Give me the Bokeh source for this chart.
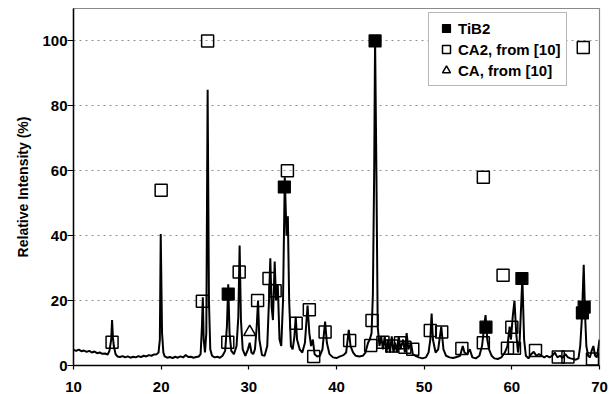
from bokeh.plotting import figure
from bokeh.models import FixedTicker, Range1d, Legend, LegendItem
from bokeh.embed import file_html
from bokeh.resources import INLINE

# XRD pattern (2-theta, relative intensity %)
pattern_x = [10.0, 10.3, 10.6, 10.9, 11.2, 11.5, 11.8, 12.1, 12.4, 12.7, 13.0, 13.3, 13.6, 13.9,
             14.1, 14.3, 14.4, 14.5, 14.6, 14.8, 15.0, 15.3, 15.6, 15.9, 16.2, 16.5, 16.8, 17.1,
             17.4, 17.7, 18.0, 18.3, 18.6, 18.9, 19.2, 19.5, 19.7, 19.85, 19.95, 20.1, 20.25, 20.4,
             20.7, 21.0, 21.3, 21.6, 21.9, 22.2, 22.5, 22.8, 23.1, 23.4, 23.7, 24.0, 24.3, 24.5,
             24.65, 24.75, 24.85, 25.0, 25.15, 25.3, 25.45, 25.6, 25.8, 26.1, 26.4, 26.7, 27.0, 27.3,
             27.5, 27.65, 27.8, 28.0, 28.3, 28.6, 28.8, 28.95, 29.1, 29.3, 29.6, 29.9, 30.1, 30.3,
             30.5, 30.7, 30.9, 31.05, 31.2, 31.5, 31.8, 32.1, 32.3, 32.45, 32.6, 32.75, 32.95, 33.1,
             33.3, 33.5, 33.7, 33.9, 34.1, 34.3, 34.45, 34.6, 34.8, 35.0, 35.2, 35.35, 35.5, 35.8,
             36.1, 36.4, 36.7, 36.9, 37.1, 37.3, 37.5, 37.8, 38.1, 38.4, 38.7, 38.9, 39.2, 39.6,
             40.0, 40.4, 40.8, 41.1, 41.4, 41.6, 41.9, 42.2, 42.6, 43.0, 43.3, 43.6, 43.8, 44.0,
             44.15, 44.3, 44.4, 44.55, 44.7, 44.9, 45.1, 45.3, 45.5, 45.7, 45.9, 46.1, 46.3, 46.5,
             46.7, 46.9, 47.1, 47.3, 47.6, 47.8, 48.0, 48.2, 48.5, 48.7, 49.0, 49.4, 49.8, 50.2,
             50.5, 50.7, 50.85, 51.0, 51.3, 51.6, 51.95, 52.2, 52.5, 52.9, 53.3, 53.7, 54.1, 54.4,
             54.6, 54.9, 55.2, 55.5, 55.9, 56.3, 56.6, 56.85, 57.0, 57.2, 57.4, 57.7, 58.0, 58.4,
             58.8, 59.2, 59.5, 59.75, 59.9, 60.1, 60.3, 60.5, 60.7, 60.9, 61.2, 61.4, 61.6, 61.9,
             62.2, 62.5, 62.8, 63.1, 63.4, 63.7, 64.0, 64.3, 64.6, 64.9, 65.2, 65.5, 65.8, 66.1,
             66.4, 66.7, 67.0, 67.3, 67.6, 67.8, 68.0, 68.2, 68.35, 68.5, 68.7, 68.9, 69.1, 69.3,
             69.5, 69.7, 69.85, 70.0]
pattern_y = [4.8, 4.5, 4.9, 4.4, 4.6, 4.2, 4.5, 4.0, 4.3, 3.8, 4.0, 3.6, 3.7, 3.4,
             4.5, 8.0, 14.0, 8.5, 6.0, 3.5, 2.8, 2.6, 2.9, 2.5, 2.8, 2.4, 2.7, 2.5,
             2.9, 2.6, 3.0, 2.8, 3.2, 3.0, 3.4, 3.5, 4.0, 8.0, 40.5, 10.0, 4.0, 2.8,
             2.4, 2.6, 2.3, 2.7, 2.4, 2.8, 2.5, 3.2, 2.6, 2.7, 2.4, 2.6, 2.8, 3.5,
             12.0, 21.0, 8.0, 4.0, 10.0, 85.0, 20.0, 5.0, 3.0, 2.5, 2.7, 2.4, 3.0, 4.5,
             12.0, 25.0, 10.0, 4.5, 3.5, 6.0, 15.0, 37.0, 14.0, 5.0, 3.0, 5.0, 7.0, 4.0,
             3.5, 5.0, 12.0, 20.0, 8.0, 3.2, 3.0, 6.0, 20.0, 33.0, 18.0, 14.0, 32.0, 20.0,
             25.0, 8.0, 6.0, 20.0, 58.0, 40.0, 46.0, 20.0, 6.0, 5.0, 9.0, 15.0, 8.0, 5.0,
             4.0, 7.0, 18.5, 10.0, 6.0, 8.0, 3.5, 2.8, 3.0, 5.0, 13.5, 7.0, 3.5, 2.5,
             2.3, 2.8, 3.2, 4.0, 11.0, 6.0, 4.0, 3.0, 2.8, 3.0, 4.0, 7.0, 8.0, 10.0,
             22.0, 60.0, 101.0, 60.0, 12.0, 6.0, 9.0, 5.0, 9.0, 4.0, 8.0, 4.0, 9.0, 4.0,
             7.0, 4.0, 9.0, 5.0, 8.0, 4.0, 10.0, 5.0, 7.0, 3.5, 3.0, 2.5, 2.2, 2.5,
             4.0, 8.0, 16.0, 8.0, 4.0, 5.0, 12.0, 5.0, 3.0, 2.5, 2.3, 2.6, 3.0, 6.0,
             4.0, 3.5, 5.0, 2.5, 2.2, 3.0, 6.0, 12.0, 15.5, 8.0, 5.0, 3.0, 2.2, 2.0,
             2.5, 4.0, 6.0, 12.0, 8.0, 15.0, 20.0, 10.0, 4.0, 8.0, 27.0, 8.0, 3.0, 2.2,
             3.5, 4.2, 3.0, 3.5, 3.0, 2.5, 3.0, 2.5, 3.0, 4.0, 2.5, 3.0, 2.3, 3.5,
             2.5, 2.2, 2.0, 1.8, 2.2, 6.0, 15.0, 31.0, 16.0, 6.0, 3.0, 2.5, 4.5, 6.0,
             3.0, 2.5, 5.0, 8.0]

# Reference peaks
tib2_x = [27.65, 34.05, 44.4, 57.05, 61.15, 68.05, 68.25]
tib2_y = [22.0, 55.0, 100.0, 11.8, 26.8, 16.2, 18.0]

ca2_x = [14.4, 20.0, 24.7, 25.3, 27.6, 28.9, 31.0, 32.3, 33.0, 34.4, 35.4, 36.9, 37.4, 38.7,
         41.5, 43.9, 44.05, 45.3, 46.3, 47.3, 47.8, 48.7, 50.7, 52.0, 54.3, 56.75, 56.75,
         59.0, 59.5, 60.0, 60.3, 62.7, 65.3, 66.4, 68.15, 69.2]
ca2_y = [7.2, 54.0, 19.8, 100.0, 7.2, 28.8, 20.0, 26.8, 23.0, 60.0, 13.0, 17.2, 2.8, 10.3,
         7.7, 6.2, 13.9, 7.2, 6.0, 7.0, 5.6, 5.0, 10.8, 10.3, 5.2, 7.0, 58.0,
         27.8, 5.3, 11.8, 5.3, 4.6, 2.6, 2.6, 98.0, 2.0]

ca_x = [30.1]
ca_y = [10.3]

y_ticks = [0, 20, 40, 60, 80, 100]
x_ticks = [10, 20, 30, 40, 50, 60, 70]

FONT = "Liberation Sans"

p = figure(width=609, height=394, output_backend="svg", toolbar_location=None,
           x_range=Range1d(10, 70), y_range=Range1d(0, 110),
           min_border_left=73, min_border_right=10, min_border_top=8, min_border_bottom=29)
p.outline_line_color = "#8a8a8a"
p.outline_line_width = 1.2

p.line(pattern_x, pattern_y, line_color="black", line_width=2.0)

r_tib2 = p.scatter(tib2_x, tib2_y, marker="square", size=12, fill_color="black",
                   line_color="black", line_width=1.2)
r_ca2 = p.scatter(ca2_x, ca2_y, marker="square", size=12, fill_color="white", fill_alpha=0.0,
                  line_color="black", line_width=1.5)
r_ca = p.scatter(ca_x, ca_y, marker="triangle", size=12, fill_color="white", fill_alpha=0.0,
                 line_color="black", line_width=1.5)

# grids
p.xgrid.visible = False
p.ygrid.ticker = FixedTicker(ticks=[20, 40, 60, 80, 100])
p.ygrid.grid_line_color = "#8f8f8f"
p.ygrid.grid_line_dash = "2 4"
p.ygrid.grid_line_width = 1.2

# axes
p.xaxis.ticker = FixedTicker(ticks=x_ticks)
p.yaxis.ticker = FixedTicker(ticks=y_ticks)
for ax in (p.xaxis[0], p.yaxis[0]):
    ax.axis_line_color = "black"
    ax.axis_line_width = 1.5
    ax.major_tick_line_color = "black"
    ax.major_tick_line_width = 1.2
    ax.major_tick_in = 0
    ax.minor_tick_line_color = None
    ax.major_label_text_font = FONT
    ax.major_label_text_font_style = "bold"
    ax.major_label_text_font_size = "15px"
    ax.major_label_text_color = "black"

p.xaxis.major_tick_out = 4
p.xaxis.major_label_standoff = 12
p.yaxis.major_tick_out = 6
p.yaxis.major_label_standoff = 0
p.yaxis.axis_label = "Relative Intensity (%)"
p.yaxis.axis_label_text_font = FONT
p.yaxis.axis_label_text_font_style = "bold"
p.yaxis.axis_label_text_font_size = "14px"
p.yaxis.axis_label_text_color = "black"
p.yaxis.axis_label_standoff = 8

legend = Legend(items=[
    LegendItem(label="TiB2", renderers=[r_tib2]),
    LegendItem(label="CA2, from [10]", renderers=[r_ca2]),
    LegendItem(label="CA, from [10]", renderers=[r_ca]),
], location=(355, 279))
legend.label_text_font = FONT
legend.label_text_font_style = "bold"
legend.label_text_font_size = "15px"
legend.label_text_color = "black"
legend.glyph_width = 24
legend.glyph_height = 20
legend.label_height = 20
legend.label_standoff = 0
legend.spacing = 1
legend.padding = 5
legend.border_line_color = "#707070"
legend.border_line_width = 1.2
legend.background_fill_color = "white"
legend.background_fill_alpha = 1.0
p.add_layout(legend)

open("out.html", "w").write(file_html(p, INLINE))
